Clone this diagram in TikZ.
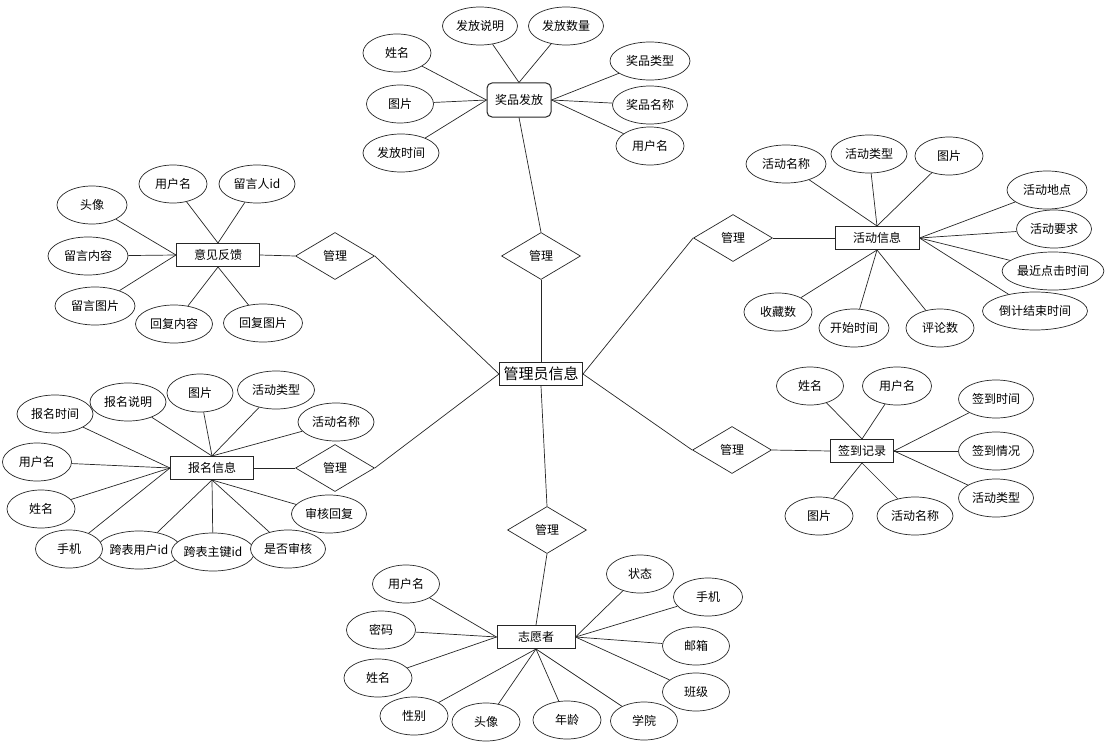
\documentclass[tikz,border=0pt]{standalone}
\usepackage{fontspec}
\setmainfont{Noto Sans CJK SC}
\usepackage{tikz}
\usetikzlibrary{shapes.geometric}

\begin{document}
\begin{tikzpicture}[x=1pt, y=-1pt, font=\fontsize{12}{14}\selectfont, line width=0.7pt, draw=black!85,
  attr/.style={ellipse, draw, fill=white, inner sep=0pt, minimum height=38pt},
  ent/.style={rectangle, draw, fill=white, line width=1pt, inner sep=0pt, minimum height=23pt},
  rel/.style={diamond, draw, fill=white, inner sep=0pt, minimum width=79pt, minimum height=47pt}]
\useasboundingbox (0,0) rectangle (1120,752);

\node[ent, minimum width=83pt, font=\fontsize{15}{17}\selectfont] (admin) at (541,374) {管理员信息};

\node[rel] (r1) at (541,256) {管理};
\node[rel] (r2) at (335,256) {管理};
\node[rel] (r3) at (335,468) {管理};
\node[rel] (r4) at (733,238) {管理};
\node[rel] (r5) at (732,450) {管理};
\node[rel] (r6) at (547,530) {管理};

\node[ent, rounded corners=5pt, minimum width=64pt, minimum height=34pt] (prize) at (519,100) {奖品发放};
\node[ent, minimum width=83pt] (feedback) at (218,255) {意见反馈};
\node[ent, minimum width=84pt] (activity) at (877,238) {活动信息};
\node[ent, minimum width=83pt] (signup) at (212,468) {报名信息};
\node[ent, minimum width=63pt] (checkin) at (862,451) {签到记录};
\node[ent, minimum width=78pt] (volunteer) at (536,637) {志愿者};

\draw (admin.north) -- (r1.south);
\draw (r1.north) -- (prize.south);
\draw (r2.east) -- (admin.west);
\draw (r3.east) -- (admin.west);
\draw (r4.west) -- (admin.east);
\draw (r5.west) -- (admin.east);
\draw (admin.south) -- (r6.north);
\draw (r6.south) -- (volunteer.north);
\draw (feedback.east) -- (r2.west);
\draw (signup.east) -- (r3.west);
\draw (r4.east) -- (activity.west);
\draw (r5.east) -- (checkin.west);

\foreach \n/\x/\y/\w/\s/\p in {pName/397/53/68/姓名/west, pImg/400/104/67/图片/west,
    pTime/401/153/76/发放时间/west, pNote/480/26/75/发放说明/north, pCount/566/26/75/发放数量/north,
    pType/650/61/80/奖品类型/east, pTitle/650/105/75/奖品名称/east, pUser/650/146/68/用户名/east} {
  \node[attr, minimum width=\w pt] (\n) at (\x,\y) {\s};
  \draw (\n) -- (prize.\p);
}

\foreach \n/\x/\y/\w/\s/\p in {fAvatar/92/205/70/头像/west, fText/88/256/80/留言内容/west,
    fImg/95/306/80/留言图片/west, fUser/173/184/68/用户名/north, fId/257/184/76/留言人id/north,
    fReply/174/324/77/回复内容/south, fReplyImg/263/323/79/回复图片/south} {
  \node[attr, minimum width=\w pt] (\n) at (\x,\y) {\s};
  \draw (\n) -- (feedback.\p);
}

\foreach \n/\x/\y/\w/\s/\p in {aName/786/164/80/活动名称/north, aType/869/154/76/活动类型/north,
    aImg/949/156/68/图片/north, aPlace/1047/190/80/活动地点/east, aReq/1054/229/75/活动要求/east,
    aClick/1053/271/100/最近点击时间/east, aEnd/1035/311/105/倒计结束时间/east,
    aFav/778/312/68/收藏数/south, aStart/854/328/70/开始时间/south, aComm/940/328/68/评论数/south} {
  \node[attr, minimum width=\w pt] (\n) at (\x,\y) {\s};
  \draw (\n) -- (activity.\p);
}

\foreach \n/\x/\y/\w/\s/\p in {sTime/55/414/76/报名时间/west, sUser/37/462/69/用户名/west,
    sName/41/509/68/姓名/west, sUid/139/550/85/跨表用户id/south, sPhone/69/549/67/手机/west,
    sNote/128/402/76/报名说明/north, sImg/200/393/66/图片/north, sType/276/390/77/活动类型/north,
    sAct/336/422/76/活动名称/north, sKey/213/552/83/跨表主键id/south,
    sCheck/288/549/75/是否审核/south, sReply/329/514/75/审核回复/south} {
  \node[attr, minimum width=\w pt] (\n) at (\x,\y) {\s};
  \draw (\n) -- (signup.\p);
}

\foreach \n/\x/\y/\w/\s/\p in {cName/810/386/67/姓名/north, cUser/897/386/69/用户名/north,
    cTime/996/399/75/签到时间/east, cState/996/451/75/签到情况/east, cType/996/498/75/活动类型/east,
    cImg/819/516/68/图片/south, cAct/915/516/76/活动名称/south} {
  \node[attr, minimum width=\w pt] (\n) at (\x,\y) {\s};
  \draw (\n) -- (checkin.\p);
}

\foreach \n/\x/\y/\w/\s/\p in {vUser/406/584/67/用户名/west, vPwd/381/630/69/密码/west,
    vName/378/678/68/姓名/west, vSex/414/716/68/性别/south, vAvatar/486/722/68/头像/south,
    vAge/567/720/68/年龄/south, vSchool/644/721/67/学院/south, vClass/696/692/67/班级/east,
    vMail/696/646/67/邮箱/east, vPhone/708/597/69/手机/east, vState/640/574/67/状态/east} {
  \node[attr, minimum width=\w pt] (\n) at (\x,\y) {\s};
  \draw (\n) -- (volunteer.\p);
}
\end{tikzpicture}
\end{document}
